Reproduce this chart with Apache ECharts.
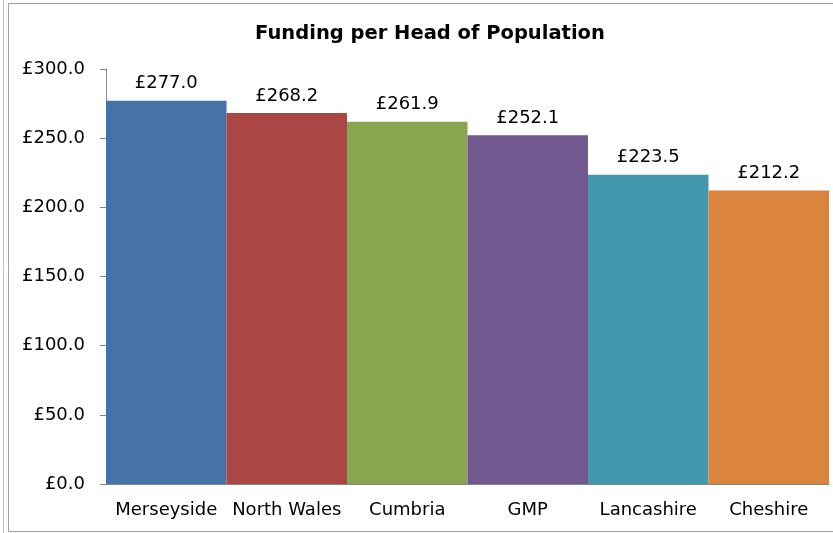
<!DOCTYPE html>
<html><head><meta charset="utf-8">
<script src="https://cdn.jsdelivr.net/npm/echarts@6/dist/echarts.min.js"></script>
<style>html,body{margin:0;padding:0;background:#fff}#c{width:833px;height:533px}</style>
</head><body><div id="c"></div>
<script>
const categories = ['Merseyside','North Wales','Cumbria','GMP','Lancashire','Cheshire'];
const values = [277.0, 268.2, 261.9, 252.1, 223.5, 212.2];
const colors = ['#4572A7','#AA4643','#89A54E','#71588F','#4198AF','#DB843D'];
const yTicks = [0, 50, 100, 150, 200, 250, 300];
const font = 'DejaVu Sans';
const chart = echarts.init(document.getElementById('c'));
chart.setOption({
  animation: false,
  title: { text: 'Funding per Head of Population', left: 425, top: 19, textAlign: 'center',
    textStyle: { fontFamily: font, fontWeight: 'bold', fontSize: 19.5, color: '#000' } },
  graphic: [
    { type: 'rect', shape: { x: 8.5, y: 3.5, width: 830, height: 528 }, style: { fill: 'none', stroke: '#a0a0a0', lineWidth: 1 } },
    { type: 'line', shape: { x1: 3.5, y1: 0, x2: 3.5, y2: 533 }, style: { stroke: '#c0c0c0', lineWidth: 1 } }
  ],
  grid: { left: 106, right: 4, top: 69, bottom: 49 },
  xAxis: { type: 'category', data: categories,
    axisLine: { lineStyle: { color: '#868686' } }, axisTick: { show: false },
    axisLabel: { fontFamily: font, fontSize: 18, color: '#000', margin: 17, interval: 0 } },
  yAxis: { type: 'value', min: yTicks[0], max: yTicks[yTicks.length-1], interval: 50,
    splitLine: { show: false },
    axisLine: { show: true, lineStyle: { color: '#868686' } },
    axisTick: { show: true, length: 6, lineStyle: { color: '#868686' } },
    axisLabel: { fontFamily: font, fontSize: 18, color: '#000', margin: 21, formatter: v => '£' + v.toFixed(1) } },
  series: [{ type: 'bar', barCategoryGap: '0%',
    data: values.map((v, i) => ({ value: v, itemStyle: { color: colors[i] } })),
    label: { show: true, position: 'top', distance: 8, fontFamily: font, fontSize: 18, color: '#000',
      formatter: p => '£' + p.value.toFixed(1) } }]
});
</script></body></html>
